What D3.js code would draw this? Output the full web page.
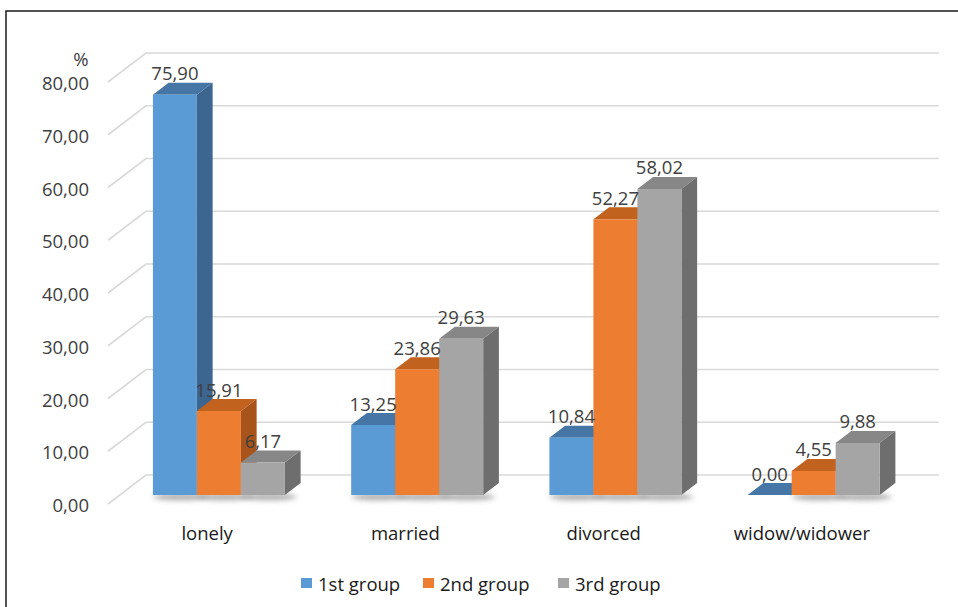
<!DOCTYPE html>
<html>
<head>
<meta charset="utf-8">
<script src="https://cdn.jsdelivr.net/npm/d3@7"></script>
<style>
  html, body { margin: 0; padding: 0; background: #fff; }
  svg { display: block; font-family: "Open Sans", "Noto Sans", sans-serif; }
</style>
</head>
<body>
<svg id="chart" width="958" height="607"></svg>
<script>
// Marital status by group, in percent
const categories = ["lonely", "married", "divorced", "widow/widower"];
const seriesNames = ["1st group", "2nd group", "3rd group"];
const group1 = [75.90, 13.25, 10.84, 0.00];
const group2 = [15.91, 23.86, 52.27, 4.55];
const group3 = [6.17, 29.63, 58.02, 9.88];
const yTicks = [0, 10, 20, 30, 40, 50, 60, 70, 80];

const seriesValues = [group1, group2, group3];

// Face colours per series: front, top, side
const palette = [
  { front: "#5B9BD5", top: "#4676A6", side: "#3C6590" },
  { front: "#ED7D31", top: "#C2621F", side: "#A8531A" },
  { front: "#A5A5A5", top: "#878787", side: "#6E6E6E" }
];

const svg = d3.select("#chart");
const locale = d3.formatLocale({ decimal: ",", thousands: ".", grouping: [3], currency: ["", ""] });
const fmt = locale.format(".2f");

// Back wall geometry and oblique depth projection
const wallLeft = 146, wallRight = 939;
const depthFront = 29;           // vertical offset of the front plane
const slope = 38 / 29;           // horizontal shift per unit of depth
const proj = (x, y, d) => [x - d * slope, y + d];

const y = d3.scaleLinear().domain([0, 80]).range([475, 53]);
const x = d3.scaleBand().domain(categories).range([wallLeft, wallRight]);
const barW = 44;
const xInner = d3.scaleBand().domain(seriesNames).range([0, barW * 3]);
const barBack = 8, barFront = 20;

// Frame
svg.append("path")
  .attr("d", "M6,607 V11 H958")
  .attr("fill", "none")
  .attr("stroke", "#1a1a1a")
  .attr("stroke-width", 1.5);

// Gridlines: back wall and left wall
const grid = svg.append("g").attr("stroke", "#d9d9d9").attr("stroke-width", 1.6).attr("fill", "none");
yTicks.forEach(t => {
  const yb = y(t);
  const f = proj(wallLeft, yb, depthFront);
  grid.append("path").attr("d", `M${f[0]},${f[1]} L${wallLeft},${yb} H${wallRight}`);
});

// Soft shadows under bars
const defs = svg.append("defs");
defs.append("filter").attr("id", "soft").attr("x", "-50%").attr("y", "-200%").attr("width", "200%").attr("height", "500%")
  .append("feGaussianBlur").attr("stdDeviation", 2.5);

const shadowG = svg.append("g").attr("filter", "url(#soft)");
categories.forEach((c, ci) => {
  seriesNames.forEach((s, si) => {
    if (seriesValues[si][ci] <= 0) return;
    const xb = x(c) + (x.bandwidth() - barW * 3) / 2 + xInner(s);
    const p = proj(xb, y(0), barFront);
    shadowG.append("ellipse")
      .attr("cx", p[0] + barW / 2 + 6)
      .attr("cy", p[1] + 2)
      .attr("rx", barW / 2 + 6)
      .attr("ry", 3.5)
      .attr("fill", "#555")
      .attr("opacity", 0.45);
  });
});

// 3D columns
const bars = svg.append("g");
const pts = arr => arr.map(p => p.join(",")).join(" ");
const labelData = [];
categories.forEach((c, ci) => {
  seriesNames.forEach((s, si) => {
    const v = seriesValues[si][ci];
    const x0 = x(c) + (x.bandwidth() - barW * 3) / 2 + xInner(s);
    const x1 = x0 + xInner.bandwidth();
    const yt = y(v), yb = y(0);
    const col = palette[si];
    const ftl = proj(x0, yt, barFront), ftr = proj(x1, yt, barFront);
    const fbl = proj(x0, yb, barFront), fbr = proj(x1, yb, barFront);
    const btl = proj(x0, yt, barBack), btr = proj(x1, yt, barBack);
    const bbr = proj(x1, yb, barBack);
    const g = bars.append("g");
    g.append("polygon").attr("points", pts([ftl, ftr, btr, btl])).attr("fill", col.top);
    if (v > 0) {
      g.append("polygon").attr("points", pts([ftr, btr, bbr, fbr])).attr("fill", col.side);
      g.append("polygon").attr("points", pts([ftl, ftr, fbr, fbl])).attr("fill", col.front);
    }
    labelData.push({ x: (ftl[0] + ftr[0]) / 2, y: ftl[1] - 22, v });
  });
});

// Value labels
svg.append("g")
  .selectAll("text")
  .data(labelData)
  .join("text")
  .attr("x", d => d.x)
  .attr("y", d => d.y)
  .attr("text-anchor", "middle")
  .attr("dominant-baseline", "central")
  .attr("font-size", 18.5)
  .attr("fill", "#404040")
  .text(d => fmt(d.v));

// Value axis on the front plane
const yFront = y.copy().range(y.range().map(r => r + depthFront));
const yAxis = svg.append("g")
  .attr("transform", "translate(95,0)")
  .call(d3.axisLeft(yFront).tickValues(yTicks).tickSize(0).tickPadding(6).tickFormat(fmt))
  .attr("font-family", null)
  .attr("font-size", null);
yAxis.select(".domain").remove();
yAxis.selectAll("text")
  .attr("font-size", 18.5)
  .attr("fill", "#404040")
  .attr("dy", null)
  .attr("dominant-baseline", "central");

svg.append("text")
  .attr("x", 81).attr("y", 58)
  .attr("text-anchor", "middle")
  .attr("dominant-baseline", "central")
  .attr("font-size", 18.5)
  .attr("fill", "#404040")
  .text("%");

// Category axis on the front plane
const xFront = x.copy().range(x.range().map(r => r - depthFront * slope));
const xAxis = svg.append("g")
  .attr("transform", `translate(0,${y(0) + depthFront})`)
  .call(d3.axisBottom(xFront).tickSize(0).tickPadding(0))
  .attr("font-family", null)
  .attr("font-size", null);
xAxis.select(".domain").remove();
xAxis.selectAll("text")
  .attr("font-size", 18.5)
  .attr("fill", "#1a1a1a")
  .attr("dy", null)
  .attr("y", 28)
  .attr("dominant-baseline", "central");

// Legend
const legendX = [301, 423, 558];
const legend = svg.append("g").attr("transform", "translate(0,583)");
seriesNames.forEach((s, i) => {
  const g = legend.append("g").attr("transform", `translate(${legendX[i]},0)`);
  g.append("rect").attr("x", 0).attr("y", -5).attr("width", 11).attr("height", 10).attr("fill", palette[i].front);
  g.append("text")
    .attr("x", 17).attr("y", 0)
    .attr("dominant-baseline", "central")
    .attr("font-size", 18.5)
    .attr("fill", "#1a1a1a")
    .text(s);
});
</script>
</body>
</html>
